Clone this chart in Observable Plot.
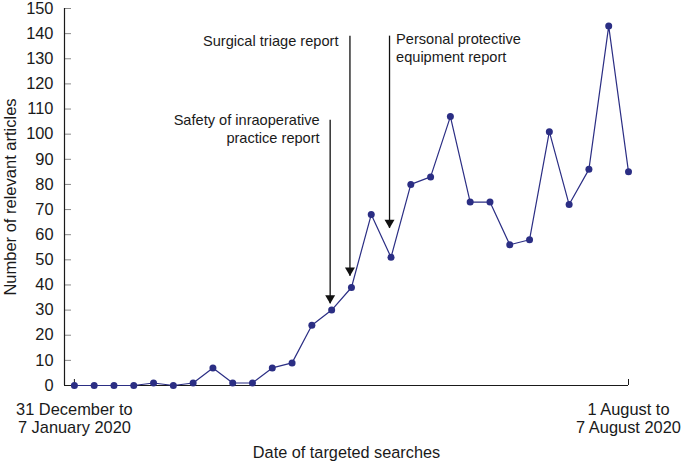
<!DOCTYPE html>
<html>
<head>
<meta charset="utf-8">
<script src="https://cdn.jsdelivr.net/npm/d3@7"></script>
<script src="https://cdn.jsdelivr.net/npm/@observablehq/plot@0.6"></script>
<style>
  body { margin: 0; background: #fff; }
</style>
</head>
<body>
<div id="chart"></div>
<script>
// Weekly number of relevant articles (31 Dec–7 Jan 2020 … 1–7 Aug 2020)
const articles = [0, 0, 0, 0, 1, 0, 1, 7, 1, 1, 7, 9, 24, 30, 39, 68, 51, 80, 83, 107, 73, 73, 56, 58, 101, 72, 86, 143, 85];
const xTickWeeks = [0, 28];
const xTickLabels = ["31 December to\n7 January 2020", "1 August to\n7 August 2020"];
const yTicks = [0, 10, 20, 30, 40, 50, 60, 70, 80, 90, 100, 110, 120, 130, 140, 150];

// Report annotations
const reportNames = ["Safety of inraoperative\npractice report", "Surgical triage report", "Personal protective\nequipment report"];
const reportWeeks = [13, 14, 16];
const reportTop = [105.5, 139, 139];
const reportTip = [32.5, 43.5, 62.5];

const data = articles.map((n, i) => ({week: i, n}));
const reports = reportNames.map((name, i) => ({name, week: reportWeeks[i], top: reportTop[i], tip: reportTip[i]}));
const navy = "#2b2e84";
const ink = "#1a1a1a";
const font = "'Liberation Sans', Arial, Helvetica, sans-serif";
const annot = {x: "week", y: "top", text: "name", lineAnchor: "top", fontSize: 14.6, lineHeight: 1.24, fill: ink};

const chart = Plot.plot({
  width: 681,
  height: 461,
  marginLeft: 64,
  marginRight: 53,
  marginTop: 8,
  marginBottom: 76,
  style: {fontFamily: font, fontSize: "16px", color: ink, background: "#fff", overflow: "visible"},
  x: {type: "linear", domain: [-0.5, 28]},
  y: {domain: [0, 150]},
  marks: [
    Plot.axisY(yTicks, {
      tickSize: -7, tickPadding: 18, stroke: "#8a8a8a", fill: ink, fontSize: 16.4,
      label: null
    }),
    Plot.axisX(xTickWeeks, {
      tickSize: -6, tickPadding: 23, stroke: ink, fill: ink, fontSize: 16.4, lineHeight: 1.1,
      tickFormat: (d) => xTickLabels[xTickWeeks.indexOf(d)],
      label: null
    }),
    Plot.text(["Date of targeted searches"], {frameAnchor: "bottom", textAnchor: "middle", dy: 72, fontSize: 16.3, fill: ink}),
    Plot.text(["Number of relevant articles"], {frameAnchor: "left", textAnchor: "middle", dx: -54, rotate: -90, fontSize: 16.5, fill: ink}),
    Plot.ruleY([0], {stroke: ink, strokeWidth: 1.2}),
    Plot.ruleX([-0.5], {stroke: ink, strokeWidth: 1.2}),
    Plot.line(data, {x: "week", y: "n", stroke: navy, strokeWidth: 1.2}),
    Plot.dot(data, {x: "week", y: "n", fill: navy, r: 3.5}),
    Plot.ruleX(reports, {x: "week", y1: "top", y2: "tip", dx: -1.5, stroke: "#111", strokeWidth: 1.3}),
    Plot.dot(reports, {x: "week", y: "tip", symbol: "triangle", fill: "#111", r: 3.7, rotate: 180, dx: -1.5, dy: -5.8}),
    Plot.text(reports.slice(0, 1), {...annot, textAnchor: "end", dx: -12, dy: -8}),
    Plot.text(reports.slice(1, 2), {...annot, textAnchor: "end", dx: -13, dy: -3}),
    Plot.text(reports.slice(2), {...annot, textAnchor: "start", dx: 5, dy: -5})
  ]
});
document.getElementById("chart").appendChild(chart);
</script>
</body>
</html>
